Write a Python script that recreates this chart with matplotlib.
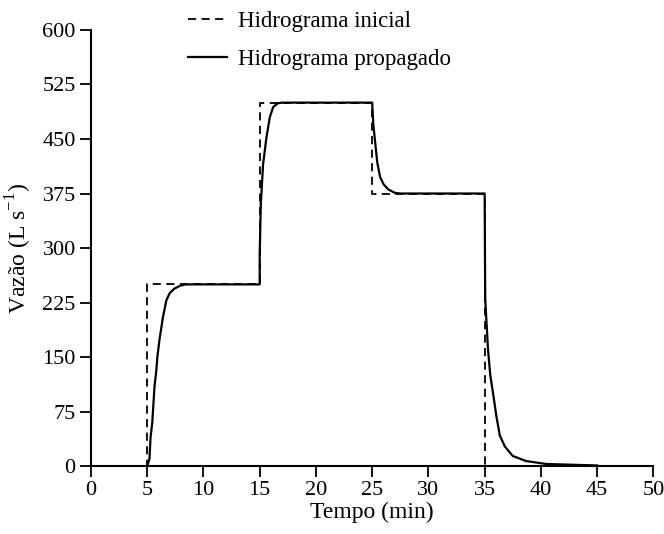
import matplotlib.pyplot as plt

plt.rcParams['font.family'] = ['Liberation Serif', 'DejaVu Serif']
plt.rcParams['mathtext.fontset'] = 'custom'
plt.rcParams['mathtext.rm'] = 'Liberation Serif'

# hidrograma inicial (degraus)
t_ini = [0, 5, 5, 15, 15, 25, 25, 35, 35, 45]
q_ini = [0, 0, 250, 250, 500, 500, 375, 375, 0, 0]

# hidrograma propagado
t_prop = [0, 5.0, 5.1, 5.2, 5.3, 5.45, 5.55, 5.65, 5.8, 5.9, 6.1, 6.4, 6.7, 7.0, 7.4, 7.9, 8.4,
          15.0, 15.0, 15.1, 15.3, 15.6, 15.9, 16.2, 16.6, 17.0,
          25.0, 25.1, 25.25, 25.45, 25.7, 26.0, 26.4, 27.0, 27.5,
          35.0, 35.05, 35.3, 35.5, 35.75, 36.05, 36.35, 36.8, 37.5, 38.7, 40.5, 45.0]
q_prop = [0, 0, 5, 10, 40, 60, 85, 110, 130, 150, 175, 205, 228, 238, 244, 248, 250,
          250, 290, 360, 415, 452, 480, 494, 499, 500,
          500, 470, 448, 418, 398, 388, 381, 376, 375,
          375, 230, 160, 125, 100, 68, 42, 27, 14, 7, 3, 1]

x_ticks = list(range(0, 51, 5))
y_ticks = list(range(0, 601, 75))

fig = plt.figure(figsize=(6.64, 5.34), dpi=100)
ax = fig.add_axes([0.137, 0.127, 0.847, 0.817])

ax.plot(t_ini, q_ini, color='black', lw=1.3, linestyle=(0, (4.5, 3)), label='Hidrograma inicial')
ax.plot(t_prop, q_prop, color='black', lw=1.6, label='Hidrograma propagado')

ax.set_xlim(0, 50)
ax.set_ylim(0, 600)
ax.set_xticks(x_ticks)
ax.set_yticks(y_ticks)
ax.spines['top'].set_visible(False)
ax.spines['right'].set_visible(False)
for s in ['left', 'bottom']:
    ax.spines[s].set_linewidth(1.5)
ax.tick_params(direction='out', length=8, width=1.3, labelsize=16, pad=3)

ax.set_xlabel('Tempo (min)', fontsize=17, labelpad=1)
ax.set_ylabel('Vazão (L s$^{\\mathrm{-1}}$)', fontsize=17, labelpad=6)

ax.legend(loc='upper left', bbox_to_anchor=(0.27, 0.997), bbox_transform=fig.transFigure,
          borderaxespad=0, frameon=False, fontsize=16.5,
          handlelength=1.7, labelspacing=0.75, handletextpad=0.45)

plt.savefig('out.png', dpi=100)
